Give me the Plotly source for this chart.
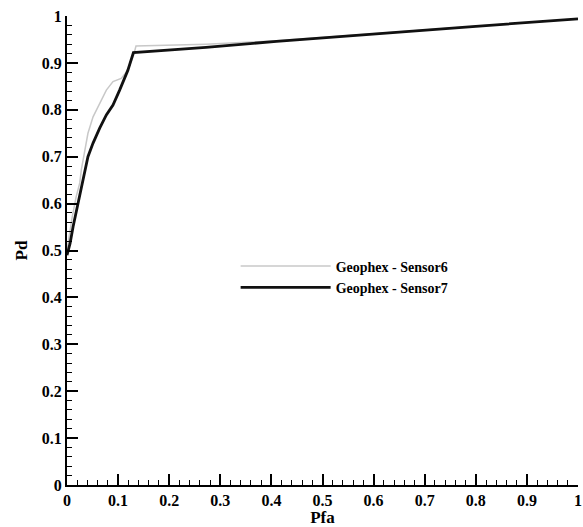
import plotly.graph_objects as go

# ROC curves: probability of detection vs probability of false alarm
pfa_s6 = [0.0, 0.010, 0.018, 0.025, 0.028, 0.035, 0.041, 0.051, 0.064, 0.077,
          0.090, 0.106, 0.119, 0.130, 0.135, 0.272, 0.410, 0.610, 1.0]
pd_s6 = [0.500, 0.570, 0.615, 0.644, 0.672, 0.714, 0.750, 0.785, 0.814, 0.842,
         0.860, 0.867, 0.884, 0.915, 0.936, 0.940, 0.947, 0.963, 0.994]

pfa_s7 = [0.0, 0.006, 0.012, 0.022, 0.032, 0.041, 0.051, 0.064, 0.077, 0.090,
          0.103, 0.110, 0.119, 0.130, 0.272, 0.410, 0.609, 0.800, 1.0]
pd_s7 = [0.490, 0.515, 0.551, 0.601, 0.655, 0.700, 0.729, 0.761, 0.789, 0.810,
         0.842, 0.860, 0.884, 0.922, 0.933, 0.946, 0.963, 0.978, 0.994]

names = ["Geophex - Sensor6", "Geophex - Sensor7"]
tick_vals = [0, 0.1, 0.2, 0.3, 0.4, 0.5, 0.6, 0.7, 0.8, 0.9, 1]
tick_text = ["0", "0.1", "0.2", "0.3", "0.4", "0.5", "0.6", "0.7", "0.8", "0.9", "1"]

SERIF = "Liberation Serif"
TICK_FONT = dict(family=SERIF, size=16, color="#000")
TITLE_FONT = dict(family=SERIF, size=17, color="#000")

fig = go.Figure()
fig.add_trace(go.Scatter(x=pfa_s6, y=pd_s6, mode="lines",
                         name="<b>%s</b>" % names[0],
                         line=dict(color="#c8c8c8", width=1.5)))
fig.add_trace(go.Scatter(x=pfa_s7, y=pd_s7, mode="lines",
                         name="<b>%s</b>" % names[1],
                         line=dict(color="#111111", width=2.8)))


def axis_style(title, standoff):
    return dict(
        range=[0, 1], tickmode="array", tickvals=tick_vals,
        ticktext=["<b>%s</b>" % t for t in tick_text],
        ticks="inside", ticklen=11, tickwidth=2, tickcolor="#000",
        showline=True, linewidth=2, linecolor="#000",
        showgrid=False, zeroline=False, tickfont=TICK_FONT,
        minor=dict(ticks="inside", ticklen=5, tickwidth=1,
                   tickcolor="#000", dtick=0.02),
        title=dict(text="<b>%s</b>" % title, standoff=standoff, font=TITLE_FONT),
    )


fig.update_layout(
    template="simple_white",
    width=583, height=527, autosize=False,
    margin=dict(l=67, r=5, t=16, b=42, autoexpand=False),
    xaxis=axis_style("Pfa", 6),
    yaxis=axis_style("Pd", 10),
    showlegend=True,
    legend=dict(x=0.33, y=0.50, xanchor="left", yanchor="top",
                bgcolor="rgba(0,0,0,0)", borderwidth=0,
                itemwidth=90, tracegroupgap=0,
                font=dict(family=SERIF, size=14, color="#000")),
)

fig.write_html("out.html")
